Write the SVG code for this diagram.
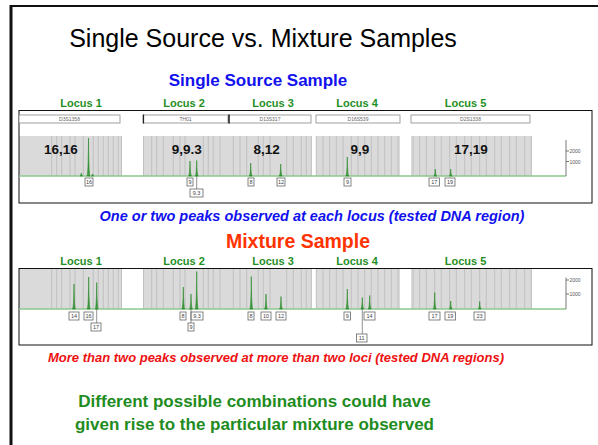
<svg xmlns="http://www.w3.org/2000/svg" width="598" height="445" viewBox="0 0 598 445">
<style>
text{font-family:"Liberation Sans",Arial,sans-serif}
.locus{font-size:11px;font-weight:bold;fill:#1f8f1f;text-anchor:middle}
.geno{font-size:13.5px;font-weight:bold;fill:#111;text-anchor:middle}
.mk{font-size:5px;fill:#666;text-anchor:middle}
.gray{fill:#dadada}
.bins{stroke:#bdbdbd;stroke-width:0.9;fill:none}
.base{stroke:#8cc98c;stroke-width:1.5}
.pk{fill:#3d9a3d;stroke:#2a882a;stroke-width:0.6}
.lb rect{fill:#fff;stroke:#666;stroke-width:0.8}
.lb text{font-size:5.5px;fill:#444;text-anchor:middle}
.lead{stroke:#666;stroke-width:0.7}
.mbox{fill:#fff;stroke:#888;stroke-width:0.8}
.ax{stroke:#555;stroke-width:0.8}
.axt{font-size:5px;fill:#555}
.panel{fill:none;stroke:#111;stroke-width:1}
</style>
<defs>
<path id="bins" class="bins" d="M51.7 0v40M56.7 0v40M61.7 0v40M70 0v40M75 0v40M83.3 0v40M93.3 0v40M98.3 0v40M103.3 0v40M108.3 0v40M113.3 0v40M118.3 0v40M121.5 0v40M143.5 0v40M151.7 0v40M156.7 0v40M163.3 0v40M173.3 0v40M180 0v40M185 0v40M203.3 0v40M208.3 0v40M213.3 0v40M220 0v40M233.3 0v40M240 0v40M246.7 0v40M258.3 0v40M263.3 0v40M270 0v40M286.7 0v40M293.3 0v40M301.3 0v40M306.3 0v40M311.3 0v40M316.3 0v40M323 0v40M329.7 0v40M336.3 0v40M343 0v40M351.3 0v40M358 0v40M364.7 0v40M371.3 0v40M378 0v40M384.7 0v40M391.3 0v40M398 0v40M413 0v40M419.7 0v40M426.3 0v40M434.7 0v40M441.3 0v40M449.7 0v40M456.3 0v40M464.7 0v40M471.3 0v40M479.7 0v40M486.3 0v40M494.7 0v40M501.3 0v40M509.7 0v40M516.3 0v40M524.7 0v40M531.3 0v40"/>
<g id="grays">
<rect class="gray" x="19" y="0" width="103" height="40"/>
<rect class="gray" x="143" y="0" width="169" height="40"/>
<rect class="gray" x="316" y="0" width="84" height="40"/>
<rect class="gray" x="411" y="0" width="121" height="40"/>
</g>
</defs>

<g id="frame">
<line x1="11" y1="5" x2="11" y2="445" stroke="#111" stroke-width="3"/>
<line x1="10" y1="6" x2="598" y2="6" stroke="#111" stroke-width="2"/>
</g>

<g id="titles">
<text x="263" y="47" font-size="25" fill="#000" text-anchor="middle">Single Source vs. Mixture Samples</text>
<text x="258" y="86" font-size="17" font-weight="bold" fill="#1111ee" text-anchor="middle">Single Source Sample</text>
</g>

<g id="single-panel">
<text class="locus" x="81" y="107">Locus 1</text>
<text class="locus" x="184" y="107">Locus 2</text>
<text class="locus" x="273" y="107">Locus 3</text>
<text class="locus" x="357" y="107">Locus 4</text>
<text class="locus" x="465.5" y="107">Locus 5</text>
<g transform="translate(0,136)"><use href="#grays"/><use href="#bins"/></g>
<rect class="panel" x="19" y="110.5" width="573" height="92.5"/>
<g id="markers">
<rect class="mbox" x="19" y="115" width="101" height="8"/><text class="mk" x="69.5" y="121">D3S1358</text>
<rect class="mbox" x="143" y="115" width="85" height="8"/><text class="mk" x="185.5" y="121">TH01</text>
<rect class="mbox" x="229" y="115" width="82" height="8"/><text class="mk" x="270" y="121">D13S317</text>
<rect class="mbox" x="316" y="115" width="84" height="8"/><text class="mk" x="358" y="121">D16S539</text>
<rect class="mbox" x="411" y="115" width="119" height="8"/><text class="mk" x="470.5" y="121">D2S1338</text>
<line x1="143.5" y1="114.5" x2="143.5" y2="123.5" stroke="#222" stroke-width="1.2"/>
<line x1="229" y1="114.5" x2="229" y2="123.5" stroke="#222" stroke-width="1.5"/>
</g>
<line class="base" x1="19" y1="176" x2="566" y2="176"/>
<g id="single-peaks">
<path class="pk" d="M87 176Q88.2 176 88.5 138Q88.8 176 90 176Z"/>
<path class="pk" d="M80 176Q81 176 81.3 173Q81.6 176 82.6 176Z"/>
<path class="pk" d="M91.5 176Q92.3 176 92.6 174Q92.9 176 93.7 176Z"/>
<path class="pk" d="M188.5 176Q189.7 176 190 161Q190.3 176 191.5 176Z"/>
<path class="pk" d="M195.2 176Q196.4 176 196.7 160.5Q197 176 198.2 176Z"/>
<path class="pk" d="M249.2 176Q250.4 176 250.7 163Q251 176 252.2 176Z"/>
<path class="pk" d="M279.2 176Q280.4 176 280.7 164Q281 176 282.2 176Z"/>
<path class="pk" d="M345.8 176Q347 176 347.3 157Q347.6 176 348.8 176Z"/>
<path class="pk" d="M433.8 176Q435 176 435.3 169Q435.6 176 436.8 176Z"/>
<path class="pk" d="M449.2 176Q450.4 176 450.7 169Q451 176 452.2 176Z"/>
</g>
<g id="single-labels" class="lb">
<rect x="85" y="178" width="8" height="8"/><text x="89" y="184">16</text>
<rect x="187" y="178" width="6" height="8"/><text x="190" y="184">9</text>
<line class="lead" x1="196.7" y1="176" x2="196.7" y2="189"/>
<rect x="190" y="189" width="13" height="8"/><text x="196.5" y="195">9.3</text>
<rect x="248" y="178" width="6" height="8"/><text x="251" y="184">8</text>
<rect x="277" y="178" width="8" height="8"/><text x="281" y="184">12</text>
<rect x="344" y="178" width="7" height="8"/><text x="347.5" y="184">9</text>
<rect x="429" y="178" width="10.5" height="8"/><text x="434.2" y="184">17</text>
<rect x="445" y="178" width="10" height="8"/><text x="450" y="184">19</text>
</g>
<g id="single-geno">
<text class="geno" x="61" y="154">16,16</text>
<text class="geno" x="186.7" y="154">9,9.3</text>
<text class="geno" x="266.7" y="154">8,12</text>
<text class="geno" x="360" y="154">9,9</text>
<text class="geno" x="471" y="154">17,19</text>
</g>
<g id="single-axis">
<line class="ax" x1="566" y1="140" x2="566" y2="176"/>
<line class="ax" x1="566" y1="151" x2="569" y2="151"/>
<line class="ax" x1="566" y1="161.5" x2="569" y2="161.5"/>
<text class="axt" x="569.5" y="153">2000</text>
<text class="axt" x="569.5" y="163.5">1000</text>
</g>
</g>

<text x="312" y="220.5" font-size="14.5" font-weight="bold" font-style="italic" fill="#1111ee" text-anchor="middle">One or two peaks observed at each locus (tested DNA region)</text>
<text x="298" y="248" font-size="19.5" font-weight="bold" fill="#ff3300" text-anchor="middle">Mixture Sample</text>

<g id="mixture-panel">
<text class="locus" x="81" y="265">Locus 1</text>
<text class="locus" x="184" y="265">Locus 2</text>
<text class="locus" x="273" y="265">Locus 3</text>
<text class="locus" x="357" y="265">Locus 4</text>
<text class="locus" x="465.5" y="265">Locus 5</text>
<g transform="translate(0,269)"><use href="#grays"/><use href="#bins"/></g>
<rect class="panel" x="19" y="268.5" width="573" height="76.5"/>
<line class="base" x1="19" y1="309" x2="566" y2="309"/>
<g id="mix-peaks">
<path class="pk" d="M72.5 309Q73.7 309 74 284Q74.3 309 75.5 309Z"/>
<path class="pk" d="M87.2 309Q88.4 309 88.7 277Q89 309 90.2 309Z"/>
<path class="pk" d="M95.2 309Q96.4 309 96.7 282.5Q97 309 98.2 309Z"/>
<path class="pk" d="M181.8 309Q183 309 183.3 287Q183.6 309 184.8 309Z"/>
<path class="pk" d="M189.5 309Q190.7 309 191 294Q191.3 309 192.5 309Z"/>
<path class="pk" d="M195.2 309Q196.4 309 196.7 271.5Q197 309 198.2 309Z"/>
<path class="pk" d="M249.8 309Q251 309 251.3 276.5Q251.6 309 252.8 309Z"/>
<path class="pk" d="M264.5 309Q265.7 309 266 294Q266.3 309 267.5 309Z"/>
<path class="pk" d="M279.5 309Q280.7 309 281 296.5Q281.3 309 282.5 309Z"/>
<path class="pk" d="M345.8 309Q347 309 347.3 289Q347.6 309 348.8 309Z"/>
<path class="pk" d="M360.8 309Q362 309 362.3 297.5Q362.6 309 363.8 309Z"/>
<path class="pk" d="M368.2 309Q369.4 309 369.7 295.5Q370 309 371.2 309Z"/>
<path class="pk" d="M433.2 309Q434.4 309 434.7 292.5Q435 309 436.2 309Z"/>
<path class="pk" d="M449.2 309Q450.4 309 450.7 301Q451 309 452.2 309Z"/>
<path class="pk" d="M478.2 309Q479.4 309 479.7 301.5Q480 309 481.2 309Z"/>
</g>
<g id="mix-labels" class="lb">
<rect x="69" y="312" width="10" height="8"/><text x="74" y="318">14</text>
<rect x="84" y="312" width="9" height="8"/><text x="88.5" y="318">16</text>
<line class="lead" x1="96.7" y1="309" x2="96.7" y2="323"/>
<rect x="91" y="323" width="10" height="8"/><text x="96" y="329">17</text>
<rect x="180" y="312" width="6" height="8"/><text x="183" y="318">8</text>
<rect x="191" y="312" width="12" height="8"/><text x="197" y="318">9.3</text>
<line class="lead" x1="191" y1="309" x2="191" y2="323"/>
<rect x="188" y="323" width="6" height="8"/><text x="191" y="329">9</text>
<rect x="248" y="312" width="6" height="8"/><text x="251" y="318">8</text>
<rect x="261" y="312" width="10" height="8"/><text x="266" y="318">10</text>
<rect x="276" y="312" width="10" height="8"/><text x="281" y="318">12</text>
<rect x="344" y="312" width="6.5" height="8"/><text x="347.2" y="318">9</text>
<rect x="364" y="312" width="11" height="8"/><text x="369.5" y="318">14</text>
<line class="lead" x1="362.3" y1="309" x2="362.3" y2="334"/>
<rect x="356.5" y="334" width="10.5" height="8"/><text x="361.7" y="340">11</text>
<rect x="429" y="312" width="11" height="8"/><text x="434.5" y="318">17</text>
<rect x="445" y="312" width="10.5" height="8"/><text x="450.2" y="318">19</text>
<rect x="474" y="312" width="11" height="8"/><text x="479.5" y="318">23</text>
</g>
<g id="mix-axis">
<line class="ax" x1="566" y1="277.5" x2="566" y2="309"/>
<line class="ax" x1="566" y1="280" x2="569" y2="280"/>
<line class="ax" x1="566" y1="294" x2="569" y2="294"/>
<text class="axt" x="569.5" y="282">2000</text>
<text class="axt" x="569.5" y="296">1000</text>
</g>
</g>

<text x="276" y="362" font-size="13" font-weight="bold" font-style="italic" fill="#ee1111" text-anchor="middle">More than two peaks observed at more than two loci (tested DNA regions)</text>
<g id="conclusion" font-size="17" font-weight="bold" fill="#1e8c1e" text-anchor="middle">
<text x="254.5" y="407">Different possible combinations could have</text>
<text x="254.5" y="430">given rise to the particular mixture observed</text>
</g>
</svg>
